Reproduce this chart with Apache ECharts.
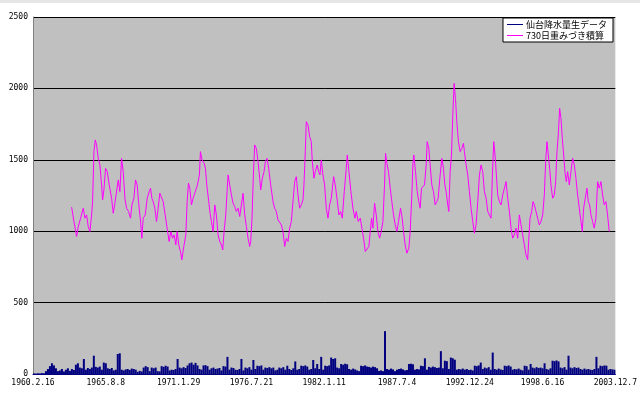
<!DOCTYPE html>
<html><head><meta charset="utf-8">
<script src="https://cdn.jsdelivr.net/npm/echarts@6/dist/echarts.min.js"></script>
<style>html,body{margin:0;padding:0;background:#fff}#c{width:640px;height:398px}</style>
</head><body><div id="c"></div>
<script>
// X axis: days since 1960.2.16, labelled every 2000 days
const tickLabels = ["1960.2.16","1965.8.8","1971.1.29","1976.7.21","1982.1.11","1987.7.4","1992.12.24","1998.6.16","2003.12.7"];
const seriesNames = ["仙台降水量生データ","730日重みづき積算"];

// Daily precipitation (sampled, one value per ~54.8 days), mm
const precipValues = [
4,3,5,4,6,5,20,35,55,75,
60,40,20,25,35,18,30,40,22,35,
28,65,75,45,40,105,30,42,35,45,
128,50,45,52,30,80,75,40,35,42,
25,30,140,145,30,25,32,35,28,38,
35,30,15,22,18,45,55,48,20,45,
40,45,20,18,55,50,58,52,25,30,
28,35,105,45,40,48,42,60,75,80,
65,78,60,35,30,60,62,55,30,40,
45,35,38,42,25,55,52,120,30,45,
42,30,28,35,105,25,45,40,48,30,
98,35,58,55,60,30,45,42,48,40,
45,25,30,45,40,48,30,58,35,28,
40,88,30,35,58,55,60,52,30,35,
98,40,70,35,120,30,58,55,60,115,
105,110,45,40,70,65,72,68,35,30,
38,32,25,20,58,55,60,52,50,45,
52,48,40,22,25,20,300,35,30,38,
32,20,30,35,38,32,25,28,70,72,
68,30,35,32,58,55,110,30,50,45,
52,48,42,45,160,40,93,90,35,115,
110,100,30,35,32,38,30,35,28,30,
25,58,55,60,80,35,45,40,48,30,
150,35,30,38,32,28,58,55,60,52,
30,35,32,38,30,25,58,55,30,70,
45,40,48,42,45,40,75,35,30,40,
93,90,95,88,45,40,48,30,128,45,
40,48,42,45,35,30,38,32,35,30,
28,35,120,40,58,55,60,58,30,35,
32,30];
const precipDayStep = 54.8;

// 730-day weighted accumulation
const accDays = [
1061,1125,1198,1244,1308,1381,1427,1473,1518,1564,1610,1637,1674,1711,1747,1793,1839,1884,1912,1948,
1994,2040,2095,2159,2205,2250,2296,2342,2387,2433,2479,2525,2570,2625,2680,2717,2772,2817,2863,2900,
2955,2991,3028,3083,3138,3192,3229,3266,3302,3348,3394,3439,3485,3531,3577,3631,3686,3741,3787,3833,
3878,3924,3961,4006,4052,4089,4144,4199,4235,4272,4308,4354,4400,
4445,4518,4573,4600,4646,4701,4738,4774,4829,4866,4902,4948,4994,5040,5085,5131,5177,5213,5250,5296,
5332,5360,5405,5451,5497,5543,5588,5634,5680,5726,5771,5817,5863,5909,5954,5982,6018,6055,6091,6137,
6183,6229,6256,6302,6348,6384,6430,6476,6531,6595,6640,6686,6732,6777,6823,6869,6915,6960,7006,7052,
7098,7143,7189,7235,7281,7326,7372,7418,7445,7482,7509,7555,7601,7646,7674,7720,7756,7811,7848,7884,
7921,7967,8012,8058,8104,
8150,8196,8260,8305,8351,8406,8452,8498,8552,8607,8635,8681,8735,8790,8845,8882,8937,8992,9037,9083,
9129,9174,9229,9266,9303,9339,9385,9431,9476,9522,9568,9614,9659,9687,9723,9769,9815,9860,9906,9952,
9998,10043,10098,10144,10181,10226,10272,10327,10364,10409,10437,10464,10510,10556,10601,10638,10675,10711,10757,10803,
10830,10876,10912,10958,11004,11050,11095,11132,11187,11233,11278,11315,11351,11397,11425,11461,11498,11534,11571,11608,
11644,11690,11736,11781,11827,
11854,11900,11945,11991,12037,12083,12128,12174,12220,12266,12311,12357,12403,12449,12494,12540,12586,12622,12659,12695,
12732,12769,12814,12860,12906,12952,12997,13043,13089,13135,13180,13226,13272,13318,13363,13409,13455,13500,13546,13592,
13619,13656,13702,13738,13775,13821,13866,13912,13958,14004,14049,14086,14122,14159,14196,14232,14278,14324,14360,14397,
14433,14470,14507,14543,14580,14616,14653,14690,14735,14781,14827,14873,14918,14964,15010,15056,15092,15129,15174,15220,
15257,15293,15330,15376,15421,15467,15513,15559,15604,15650,15696,15742,15787,15833];
const accValues = [
1168,1068,963,1033,1091,1161,1091,1114,1033,998,1114,1207,1557,1639,1604,1510,1464,1324,1219,1289,
1440,1417,1324,1231,1126,1196,1207,1359,1277,1510,1417,1231,1161,1138,1091,1184,1231,1359,1324,1207,
1068,951,1091,1114,1231,1277,1301,1231,1207,1161,1068,1161,1266,1254,1207,1114,1021,928,998,951,
974,904,998,904,858,800,893,974,1207,1336,1301,1184,1231,
1242,1324,1394,1557,1499,1476,1440,1324,1207,1126,1068,998,1184,1114,974,928,904,869,998,1114,
1277,1394,1324,1254,1196,1172,1138,1161,1103,1091,1266,1114,1033,951,893,928,1091,1394,1604,1580,
1487,1371,1289,1371,1417,1487,1510,1440,1324,1207,1161,1138,1079,1091,1044,998,893,951,928,1021,
1068,1207,1347,1382,1254,1161,1184,1219,1324,1557,1767,1744,1662,1627,1487,1371,1417,1464,1417,1394,
1499,1394,1324,1161,1091,
1184,1231,1382,1324,1231,1114,1138,1091,1277,1440,1534,1417,1277,1161,1091,1138,1068,1091,1021,951,
858,869,893,998,1091,1021,1196,1114,998,951,998,1068,1324,1545,1476,1417,1301,1207,1114,1044,
998,1068,1161,1091,998,904,846,881,998,1254,1464,1534,1417,1277,1207,1161,1301,1289,1324,1464,
1627,1580,1464,1324,1277,1184,1207,1231,1394,1510,1440,1324,1277,1184,1138,1417,1534,1814,2035,1930,
1767,1627,1557,1580,1615,
1557,1464,1394,1277,1161,1068,986,1044,1207,1394,1464,1417,1277,1231,1138,1114,1091,1394,1627,1534,
1394,1254,1207,1184,1254,1301,1347,1231,1138,1021,951,974,1021,951,1114,1044,974,904,834,800,
928,1091,1138,1207,1184,1138,1091,1044,1068,1114,1254,1487,1627,1534,1440,1324,1231,1254,1347,1557,
1674,1860,1790,1650,1534,1417,1347,1417,1324,1417,1510,1464,1371,1254,1161,1068,998,1161,1231,1301,
1207,1184,1114,1068,1021,1091,1347,1301,1347,1254,1184,1207,1114,998];

const precipData = precipValues.map((v, i) => [i * precipDayStep + precipDayStep / 2, v]);
const accData = accDays.map((d, i) => [d, accValues[i]]);

const chart = echarts.init(document.getElementById('c'), null, {renderer: 'canvas'});
const labelFont = {fontFamily: 'DejaVu Sans Mono', fontSize: 8, color: '#000'};
chart.setOption({
  animation: false,
  backgroundColor: '#fff',
  graphic: [{type: 'rect', shape: {x: 0, y: 0, width: 640, height: 3}, style: {fill: '#e6e6e6'}, silent: true}],
  grid: {left: 33, right: 24, top: 17, bottom: 24, show: true, backgroundColor: '#c0c0c0', borderWidth: 0},
  legend: {
    data: seriesNames, orient: 'vertical', right: 27, top: 18,
    backgroundColor: '#fff', borderColor: '#000', borderWidth: 1, borderRadius: 0,
    padding: [2, 6, 2, 4], itemGap: 2, itemWidth: 16, itemHeight: 1, icon: 'rect',
    textStyle: {fontFamily: 'Noto Sans CJK JP', fontSize: 9, color: '#000', padding: [0, 0, 0, -2]}
  },
  xAxis: {
    type: 'value', min: 0, max: 16000, interval: 2000,
    axisLine: {show: true, lineStyle: {color: '#000080', width: 1}},
    axisTick: {show: false},
    splitLine: {show: false},
    axisLabel: Object.assign({margin: 5, formatter: v => tickLabels[Math.round(v / 2000)] || ''}, labelFont)
  },
  yAxis: {
    type: 'value', min: 0, max: 2500, interval: 500,
    axisLine: {show: true, lineStyle: {color: '#808080'}},
    axisTick: {show: false},
    splitLine: {show: true, lineStyle: {color: '#000', width: 1}},
    axisLabel: Object.assign({margin: 5, formatter: v => String(v)}, labelFont)
  },
  series: [
    {name: seriesNames[0], type: 'bar', data: precipData, barWidth: 2, itemStyle: {color: '#000080'}, large: true},
    {name: seriesNames[1], type: 'line', data: accData, symbol: 'none', lineStyle: {color: '#ff00ff', width: 1}, itemStyle: {color: '#ff00ff'}}
  ]
});
</script></body></html>
